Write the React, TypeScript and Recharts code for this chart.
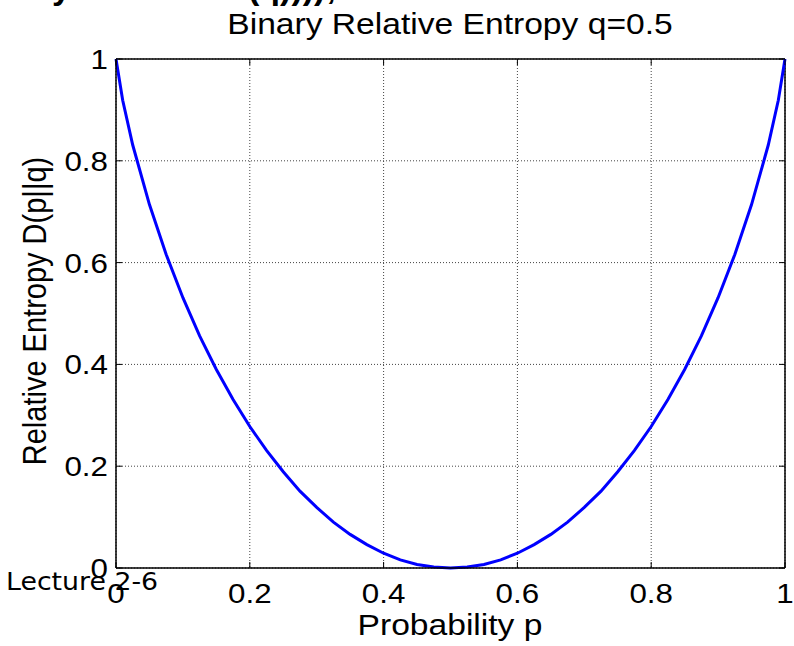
import { LineChart, Line, XAxis, YAxis, CartesianGrid, ReferenceLine } from 'recharts';

const W = 794;
const H = 646;
const PLOT = { left: 116, right: 785, top: 59, bottom: 568 };

const pValues = [
  0, 0.01, 0.025, 0.05, 0.075, 0.1, 0.125, 0.15, 0.175, 0.2, 0.225, 0.25, 0.275, 0.3, 0.325,
  0.35, 0.375, 0.4, 0.425, 0.45, 0.475, 0.5, 0.525, 0.55, 0.575, 0.6, 0.625, 0.65, 0.675, 0.7,
  0.725, 0.75, 0.775, 0.8, 0.825, 0.85, 0.875, 0.9, 0.925, 0.95, 0.975, 0.99, 1,
];
const entropyValues = [
  1, 0.919, 0.831, 0.714, 0.616, 0.531, 0.456, 0.39, 0.331, 0.278, 0.231, 0.189, 0.151, 0.119,
  0.09, 0.066, 0.046, 0.029, 0.016, 0.007, 0.002, 0, 0.002, 0.007, 0.016, 0.029, 0.046, 0.066,
  0.09, 0.119, 0.151, 0.189, 0.231, 0.278, 0.331, 0.39, 0.456, 0.531, 0.616, 0.714, 0.831,
  0.919, 1,
];
const xTicks = [0, 0.2, 0.4, 0.6, 0.8, 1];
const yTicks = [0, 0.2, 0.4, 0.6, 0.8, 1];

const data = pValues.map((p, i) => ({ p, d: entropyValues[i] }));

const FONT = '"Liberation Sans", Arial, sans-serif';
// the reference image is slightly stretched horizontally
const STRETCH = 1.12;

function XTick(props: any) {
  const { x, payload } = props;
  const ty = PLOT.bottom + 35;
  return (
    <g>
      <line x1={x} x2={x} y1={PLOT.bottom} y2={PLOT.bottom - 6} stroke="#000" />
      <line x1={x} x2={x} y1={PLOT.top} y2={PLOT.top + 6} stroke="#000" />
      <text
        x={0}
        y={0}
        transform={`translate(${x},${ty}) scale(${STRETCH},1)`}
        textAnchor="middle"
        fontSize={28}
        fontFamily={FONT}
        fill="#000"
      >
        {String(payload.value)}
      </text>
    </g>
  );
}

function YTick(props: any) {
  const { y, payload } = props;
  return (
    <g>
      <line x1={PLOT.left} x2={PLOT.left + 6} y1={y} y2={y} stroke="#000" />
      <line x1={PLOT.right} x2={PLOT.right - 6} y1={y} y2={y} stroke="#000" />
      <text
        x={0}
        y={0}
        transform={`translate(${PLOT.left - 8},${y + 10}) scale(${STRETCH},1)`}
        textAnchor="end"
        fontSize={28}
        fontFamily={FONT}
        fill="#000"
      >
        {String(payload.value)}
      </text>
    </g>
  );
}

const centered = {
  position: 'absolute' as const,
  left: 0,
  width: 900,
  textAlign: 'center' as const,
  fontFamily: FONT,
  lineHeight: '34px',
  color: '#000',
  transform: `scaleX(${STRETCH})`,
  transformOrigin: '450px 0',
};

export default function App() {
  return (
    <div style={{ position: 'absolute', left: 0, top: 0, width: W, height: H, background: '#fff', overflow: 'hidden' }}>
      <LineChart
        width={W}
        height={H}
        data={data}
        margin={{ top: PLOT.top, right: W - PLOT.right, bottom: 0, left: 0 }}
      >
        <CartesianGrid stroke="#444" strokeDasharray="1 2" strokeWidth={1} />
        <XAxis
          dataKey="p"
          type="number"
          domain={[0, 1]}
          ticks={xTicks}
          height={H - PLOT.bottom}
          axisLine={{ stroke: '#000', strokeWidth: 1.5 }}
          tickLine={false}
          tick={<XTick />}
          interval={0}
        />
        <YAxis
          type="number"
          domain={[0, 1]}
          ticks={yTicks}
          width={PLOT.left}
          axisLine={{ stroke: '#000', strokeWidth: 1.5 }}
          tickLine={false}
          tick={<YTick />}
          interval={0}
        />
        <ReferenceLine y={1} stroke="#000" strokeWidth={1.5} />
        <ReferenceLine x={1} stroke="#000" strokeWidth={1.5} />
        <Line
          type="linear"
          dataKey="d"
          stroke="#0000ff"
          strokeWidth={3}
          dot={false}
          isAnimationActive={false}
        />
      </LineChart>
      <div style={{ ...centered, top: 7, fontSize: 30 }}>Binary Relative Entropy q=0.5</div>
      <div style={{ ...centered, top: 608, fontSize: 30 }}>Probability p</div>
      <div
        style={{
          position: 'absolute',
          left: 35,
          top: 311,
          transform: `translate(-50%, -50%) rotate(-90deg) scaleY(${STRETCH})`,
          whiteSpace: 'nowrap',
          fontFamily: FONT,
          fontSize: 29,
          lineHeight: '34px',
          color: '#000',
        }}
      >
        Relative Entropy D(p||q)
      </div>
      <div
        style={{
          position: 'absolute',
          left: 6,
          top: 566,
          fontFamily: '"DejaVu Sans", sans-serif',
          fontSize: 25,
          lineHeight: '32px',
          color: '#000',
          whiteSpace: 'nowrap',
          transform: 'scaleX(1.07)',
          transformOrigin: '0 0',
        }}
      >
        Lecture 2-6
      </div>
      <div style={{ position: 'absolute', left: 52, top: -32, fontFamily: FONT, fontSize: 34, fontWeight: 'bold', lineHeight: '38px', color: '#000', whiteSpace: 'nowrap' }}>
        y
      </div>
      <div style={{ position: 'absolute', left: 248, top: -32, fontFamily: FONT, fontSize: 34, fontWeight: 'bold', lineHeight: '38px', color: '#000', whiteSpace: 'nowrap' }}>
        (q))));
      </div>
    </div>
  );
}
